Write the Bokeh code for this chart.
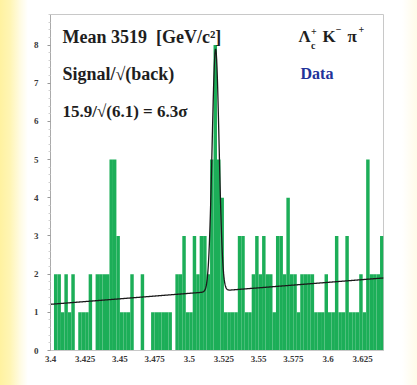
import numpy as np
from bokeh.plotting import figure
from bokeh.models import Label, FixedTicker, Range1d
from bokeh.embed import file_html
from bokeh.resources import INLINE

# Invariant-mass histogram of Lambda_c+ K- pi+ candidates, 2.5 MeV bins
mass_lo = 3.40
bin_width = 0.0025
counts = [
    0, 2, 2, 1, 2, 1, 2, 0, 1, 1,
    1, 2, 0, 2, 2, 2, 2, 5, 5, 3,
    1, 1, 1, 2, 0, 0, 2, 0, 0, 1,
    1, 1, 1, 1, 1, 0, 2, 2, 3, 1,
    1, 3, 2, 3, 3, 2, 5, 8, 5, 4,
    1, 1, 1, 1, 3, 3, 1, 1, 2, 3,
    2, 3, 2, 2, 1, 3, 3, 2, 4, 2,
    2, 1, 2, 2, 2, 2, 1, 1, 1, 2,
    1, 1, 3, 1, 1, 3, 1, 1, 1, 2,
    1, 5, 2, 2, 2, 3,
]

# Fit: gaussian signal on a linear background
fit_mean = 3.519
fit_sigma = 0.0025
fit_signal = 15.9
bkg_at_lo = 1.21
bkg_slope = 2.875

x_ticks = [3.4, 3.425, 3.45, 3.475, 3.5, 3.525, 3.55, 3.575, 3.6, 3.625]
x_tick_labels = ["3.4", "3.425", "3.45", "3.475", "3.5", "3.525", "3.55", "3.575", "3.6", "3.625"]
y_ticks = [0, 1, 2, 3, 4, 5, 6, 7, 8]

edges = mass_lo + bin_width * np.arange(len(counts) + 1)

p = figure(
    width=417, height=385,
    output_backend="svg", toolbar_location=None,
    x_range=Range1d(3.40, 3.64), y_range=Range1d(0, 8.8),
    min_border_left=50, min_border_right=34,
    min_border_top=14, min_border_bottom=35,
    background_fill_color="white",
    border_fill_alpha=0.0,
    outline_line_color="#c8c8c8",
    styles={"background": "linear-gradient(to right, #fff2a0 0px, #fff5b4 10px, "
                          "#fffbe2 20px, #ffffff 28px, #ffffff 402px, #fffbe8 417px)"},
)
p.grid.visible = False

p.quad(left=edges[:-1], right=edges[1:], bottom=0, top=counts,
       fill_color="#1cae58", line_color=None)

xf = np.linspace(3.40, 3.64, 961)
bkg = bkg_at_lo + bkg_slope * (xf - mass_lo)
gauss = fit_signal * bin_width / (np.sqrt(2 * np.pi) * fit_sigma) * \
    np.exp(-0.5 * ((xf - fit_mean) / fit_sigma) ** 2)
p.line(xf, bkg + gauss, line_color="#1a1a1a", line_width=1.3)

# axes
p.xaxis.ticker = FixedTicker(ticks=x_ticks)
p.xaxis.major_label_overrides = {t: s for t, s in zip(x_ticks, x_tick_labels)}
p.xaxis.major_tick_out = 0
p.xaxis.major_tick_in = 0
p.xaxis.minor_tick_out = 0
p.xaxis.minor_tick_in = 0
p.xaxis.axis_line_color = "#c8c8c8"
p.xaxis.major_label_standoff = 5

p.yaxis.ticker = FixedTicker(ticks=y_ticks, minor_ticks=[v + 0.2 * k for v in range(9) for k in range(1, 5)])
p.yaxis.major_tick_out = 3
p.yaxis.major_tick_in = 0
p.yaxis.minor_tick_out = 2
p.yaxis.minor_tick_in = 0
p.yaxis.major_tick_line_color = "#999999"
p.yaxis.minor_tick_line_color = "#d0d0d0"
p.yaxis.axis_line_color = "#aaaaaa"
p.yaxis.major_label_standoff = 9

for ax in (p.xaxis, p.yaxis):
    ax.major_label_text_font = "Liberation Serif"
    ax.major_label_text_font_style = "bold"
    ax.major_label_text_font_size = "9px"
    ax.major_label_text_color = "#3a3a3a"

# annotations
serif = "Liberation Serif"
ink = "#1e1e1e"


def note(x, y, text, size, color=ink, style="bold"):
    p.add_layout(Label(x=x, y=y, text=text, text_font=serif, text_font_style=style,
                       text_font_size=size, text_color=color, text_baseline="middle"))


note(3.4086, 8.22, "Mean 3519\u00a0\u00a0[GeV/c²]", "18px")
note(3.4086, 7.23, "Signal/√(back)", "18px")
note(3.4086, 6.26, "15.9/√(6.1) = 6.3σ", "17px")

note(3.5787, 8.22, "Λ", "17px")
note(3.5877, 8.36, "+", "10px")
note(3.5877, 7.98, "c", "10px")
note(3.5960, 8.22, "K", "17px")
note(3.6055, 8.40, "−", "10px")
note(3.6140, 8.22, "π", "17px")
note(3.6220, 8.40, "+", "10px")

note(3.5802, 7.25, "Data", "16px", color="#22339a")

open("out.html", "w").write(file_html(p, INLINE))
